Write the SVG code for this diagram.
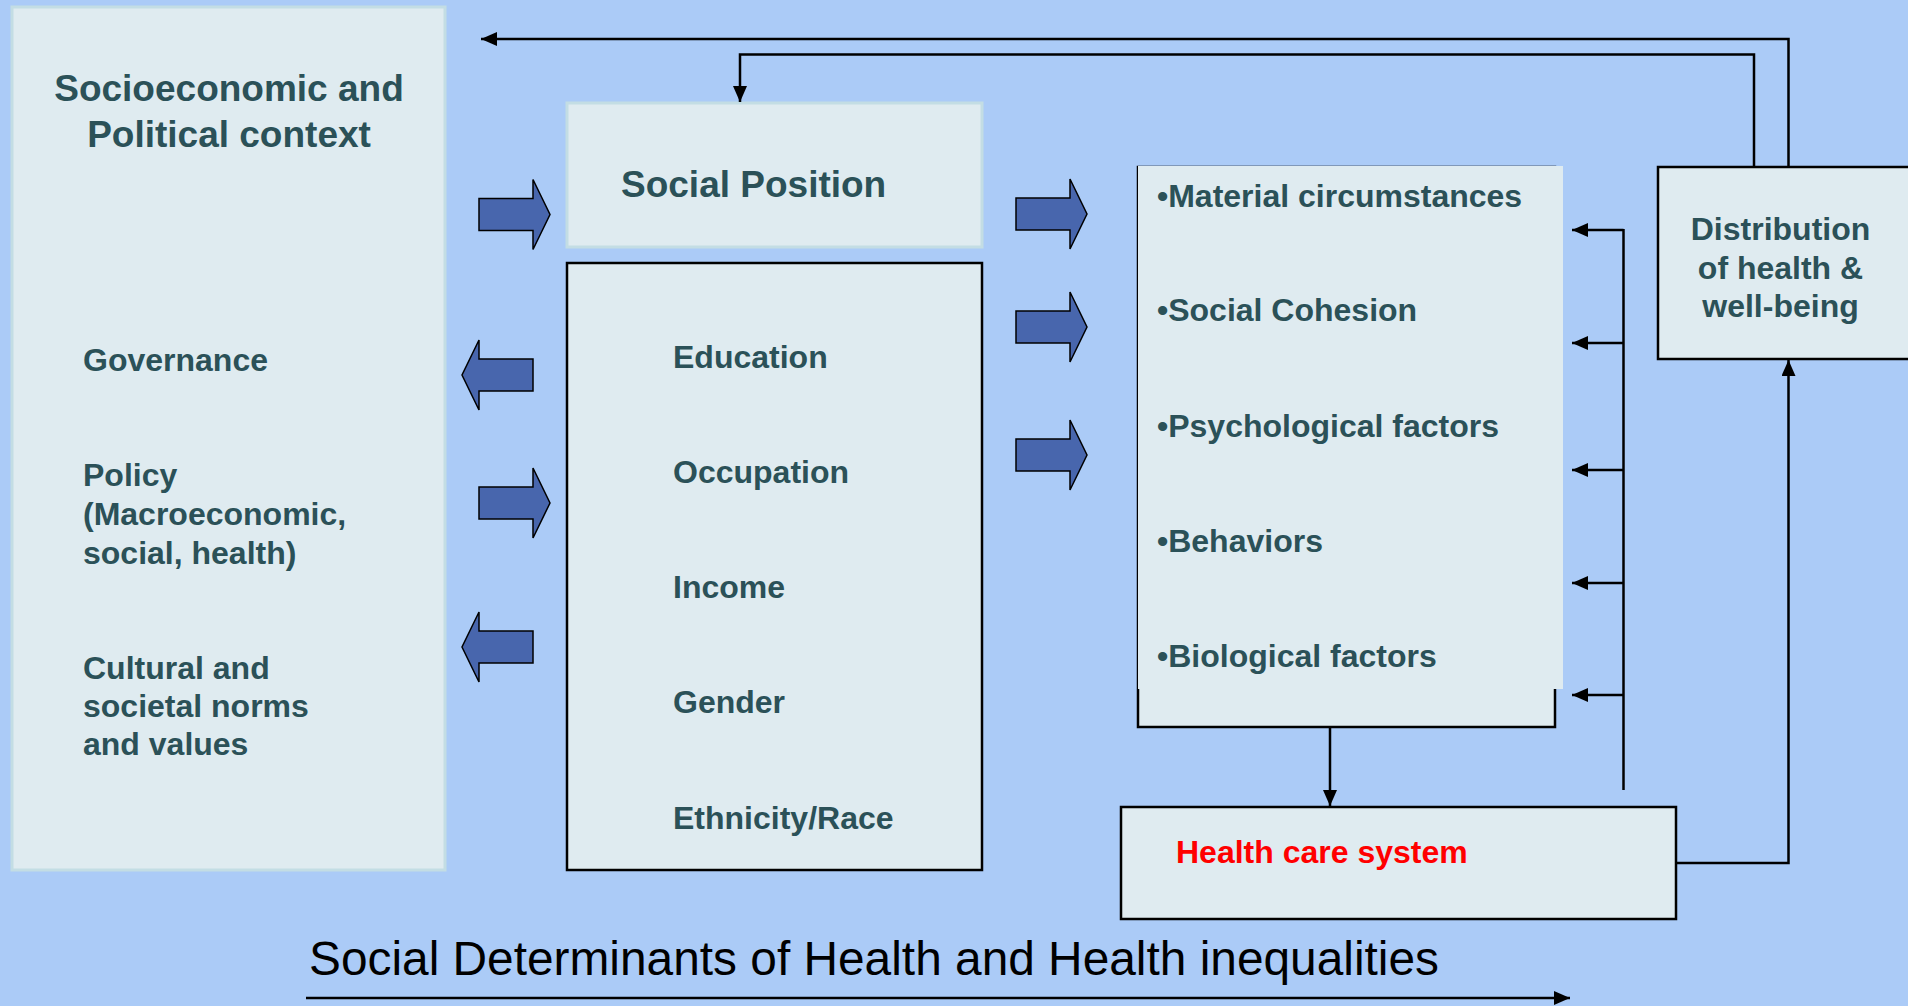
<svg xmlns="http://www.w3.org/2000/svg" xmlns:xlink="http://www.w3.org/1999/xlink" width="1908" height="1006" viewBox="0 0 1908 1006">
<style>
.bg{fill:#ABCBF7}
.box{fill:#DFEBF0;stroke:#C3DDE4;stroke-width:3}
.bbox{fill:#DFEBF0;stroke:#000;stroke-width:2.5}
.fill{fill:#DFEBF0}
.t{font-family:"Liberation Sans",Arial,sans-serif;font-weight:bold;fill:#2B5158}
.t37{font-size:37px}
.t32{font-size:32px}
.red{fill:#FF0000;font-size:32px}
.ttl{font-family:"Liberation Sans",Arial,sans-serif;font-size:48px;fill:#000}
.ln{fill:none;stroke:#000;stroke-width:2.5}
.blk{fill:#4866AD;stroke:#000;stroke-width:1.5}
</style>
<defs>
<marker id="ah" markerWidth="16" markerHeight="14" refX="16" refY="7" orient="auto" markerUnits="userSpaceOnUse">
<path d="M0,0 L16,7 L0,14 z" fill="#000"/>
</marker>
<path id="barrow" d="M-71,-16 H-17 V-35 L0,0 L-17,35 V16 H-71 Z"/>
</defs>
<rect class="bg" x="0" y="0" width="1908" height="1006"/>

<g id="context">
<rect class="box" x="12" y="7" width="433" height="863"/>
<text class="t t37" x="229" y="101" text-anchor="middle">Socioeconomic and</text>
<text class="t t37" x="229" y="147" text-anchor="middle">Political context</text>
<text class="t t32" x="83" y="371">Governance</text>
<text class="t t32" x="83" y="486">Policy</text>
<text class="t t32" x="83" y="525">(Macroeconomic,</text>
<text class="t t32" x="83" y="563.5">social, health)</text>
<text class="t t32" x="83" y="678.5">Cultural and</text>
<text class="t t32" x="83" y="717">societal norms</text>
<text class="t t32" x="83" y="755">and values</text>
</g>

<g id="social-position">
<rect class="box" x="567" y="103" width="415" height="144"/>
<text class="t t37" x="621" y="197">Social Position</text>
</g>

<g id="position-items">
<rect class="bbox" x="567" y="263" width="415" height="607"/>
<text class="t t32" x="673" y="368">Education</text>
<text class="t t32" x="673" y="483">Occupation</text>
<text class="t t32" x="673" y="598">Income</text>
<text class="t t32" x="673" y="713">Gender</text>
<text class="t t32" x="673" y="829">Ethnicity/Race</text>
</g>

<g id="intermediary">
<rect class="bbox" x="1138" y="167" width="417" height="560"/>
<rect class="fill" x="1138" y="166" width="425" height="523"/>
<text class="t t32" x="1157" y="207">•Material circumstances</text>
<text class="t t32" x="1157" y="321">•Social Cohesion</text>
<text class="t t32" x="1157" y="437">•Psychological factors</text>
<text class="t t32" x="1157" y="552">•Behaviors</text>
<text class="t t32" x="1157" y="667">•Biological factors</text>
</g>

<g id="distribution">
<rect class="bbox" x="1658" y="167" width="270" height="192"/>
<text class="t t32" x="1780.5" y="240" text-anchor="middle">Distribution</text>
<text class="t t32" x="1780.5" y="278.5" text-anchor="middle">of health &amp;</text>
<text class="t t32" x="1780.5" y="317" text-anchor="middle">well-being</text>
</g>

<g id="health-care">
<rect class="bbox" x="1121" y="807" width="555" height="112"/>
<text class="t red" x="1176" y="863">Health care system</text>
</g>

<g id="title">
<text class="ttl" x="309" y="975" textLength="1130" lengthAdjust="spacingAndGlyphs">Social Determinants of Health and Health inequalities</text>
</g>

<g id="block-arrows">
<use xlink:href="#barrow" class="blk" transform="translate(550,214.5)"/>
<use xlink:href="#barrow" class="blk" transform="translate(550,503)"/>
<use xlink:href="#barrow" class="blk" transform="translate(462,375) scale(-1,1)"/>
<use xlink:href="#barrow" class="blk" transform="translate(462,647) scale(-1,1)"/>
<use xlink:href="#barrow" class="blk" transform="translate(1087,214)"/>
<use xlink:href="#barrow" class="blk" transform="translate(1087,327)"/>
<use xlink:href="#barrow" class="blk" transform="translate(1087,455)"/>
</g>

<g id="connectors">
<path class="ln" d="M1788.5,167 V39 H481" marker-end="url(#ah)"/>
<path class="ln" d="M1754,167 V54.5 H740 V102" marker-end="url(#ah)"/>
<path class="ln" d="M1623.5,229 V790"/>
<path class="ln" d="M1623.5,230 H1572" marker-end="url(#ah)"/>
<path class="ln" d="M1623.5,343 H1572" marker-end="url(#ah)"/>
<path class="ln" d="M1623.5,470 H1572" marker-end="url(#ah)"/>
<path class="ln" d="M1623.5,583 H1572" marker-end="url(#ah)"/>
<path class="ln" d="M1623.5,695 H1572" marker-end="url(#ah)"/>
<path class="ln" d="M1330,727 V806" marker-end="url(#ah)"/>
<path class="ln" d="M1676,863 H1788.5 V360" marker-end="url(#ah)"/>
<path class="ln" d="M306,998 H1570" marker-end="url(#ah)"/>
</g>
</svg>
